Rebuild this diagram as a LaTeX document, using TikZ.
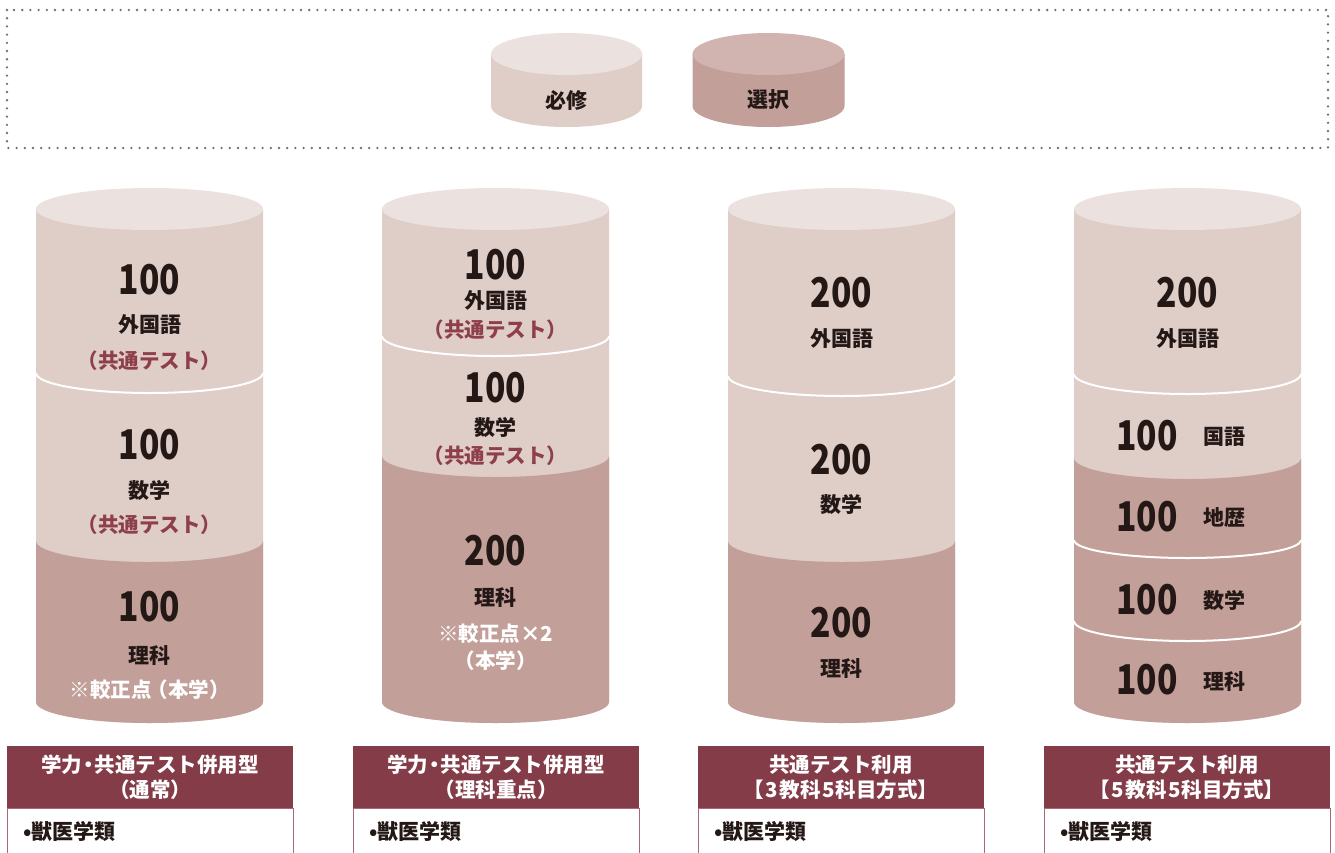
\documentclass[tikz,border=0pt]{standalone}
\usepackage{fontspec}
\setmainfont{Noto Sans CJK JP}
\definecolor{lightbody}{HTML}{DFCDC8}
\definecolor{lighttop}{HTML}{EBE1DF}
\definecolor{darkbody}{HTML}{C39F99}
\definecolor{darktop}{HTML}{D1B4AF}
\definecolor{hdr}{HTML}{843D48}
\definecolor{redtxt}{HTML}{8E3F4A}
\definecolor{txt}{HTML}{231815}
\definecolor{bordc}{HTML}{A86A72}
\definecolor{dotc}{HTML}{707070}
\newcommand\cylshape[6]{%
  \fill[#6] ({#1-#2},#3) -- ({#1-#2},#4) arc[start angle=180,end angle=360,x radius=#2pt,y radius=#5pt] -- ({#1+#2},#3) -- cycle;}
\newcommand\cylseg[6]{%
  \fill[#6] ({#1-#2},#3) arc[start angle=180,end angle=360,x radius=#2pt,y radius=#5pt] -- ({#1+#2},#4) arc[start angle=0,end angle=-180,x radius=#2pt,y radius=#5pt] -- cycle;}
\newcommand\cylline[4]{%
  \draw[white,line width=2pt] ({#1-#2},#3) arc[start angle=180,end angle=360,x radius=#2pt,y radius=#4pt];}
\newcommand\cyltop[5]{%
  \fill[#5] (#1,#3) ellipse[x radius=#2pt,y radius=#4pt];}
\newcommand\numtxt[1]{\scalebox{0.82}[1]{#1}}
\newcommand\dg[1]{\kern1.5pt#1\kern1.5pt}
\begin{document}
\begin{tikzpicture}[x=1pt,y=-1pt,
  num/.style={font=\bfseries\fontsize{41}{41}\selectfont,text=txt,inner sep=0pt},
  lab/.style={font=\bfseries\fontsize{21}{21}\selectfont,text=txt,inner sep=0pt},
  red/.style={font=\bfseries\fontsize{20.5}{20.5}\selectfont,text=redtxt,inner sep=0pt},
  wht/.style={font=\bfseries\fontsize{20.5}{20.5}\selectfont,text=white,inner sep=0pt},
  hdrtxt/.style={font=\bfseries\fontsize{20.5}{25}\selectfont,text=white,inner sep=0pt,align=center},
  bodytxt/.style={font=\bfseries\fontsize{21}{21}\selectfont,text=txt,inner sep=0pt,anchor=west},
  hdrbox/.style={fill=hdr,draw=none},
  bodybox/.style={draw=bordc,line width=1pt,fill=white}]
\useasboundingbox (0,0) rectangle (1335,852);
\clip (0,0) rectangle (1335,852);
% legend frame
\draw[dotc,line width=2.6pt,line cap=round,dash pattern=on 0pt off 8.2pt] (7,10) rectangle (1328,148);
% legend cylinders
\cylshape{566.5}{75.5}{54}{106}{21}{lightbody}
\cyltop{566.5}{75.5}{54}{21}{lighttop}
\node[lab] (lg1) at (566.5,100) {必修};
\cylshape{768.5}{76}{54}{106}{21}{darkbody}
\cyltop{768.5}{76}{54}{21}{darktop}
\node[lab] (lg2) at (768.5,100) {選択};
% cylinder 1
\cylshape{149.5}{113.5}{209}{702}{21}{lightbody}
\cylseg{149.5}{113.5}{541}{702}{21}{darkbody}
\cylline{149.5}{113.5}{373}{20}
\cyltop{149.5}{113.5}{209}{21}{lighttop}
\node[num] (c1n1) at (149.5,280) {\numtxt{100}};
\node[lab] (c1l1) at (149.5,325) {外国語};
\node[red] (c1r1) at (149.5,361) {（共通テスト）};
\node[num] (c1n2) at (149.5,445) {\numtxt{100}};
\node[lab] (c1l2) at (149.5,490) {数学};
\node[red] (c1r2) at (149.5,525) {（共通テスト）};
\node[num] (c1n3) at (149.5,607) {\numtxt{100}};
\node[lab] (c1l3) at (149.5,655) {理科};
\node[wht] (c1w3) at (149.5,690) {※較正点\kern-4pt（本学）};
% cylinder 2
\cylshape{495.5}{113.5}{209}{702}{21}{lightbody}
\cylseg{495.5}{113.5}{456}{702}{21}{darkbody}
\cylline{495.5}{113.5}{336}{20}
\cyltop{495.5}{113.5}{209}{21}{lighttop}
\node[num] (c2n1) at (495.5,265) {\numtxt{100}};
\node[lab] (c2l1) at (495.5,301) {外国語};
\node[red] (c2r1) at (495.5,330) {（共通テスト）};
\node[num] (c2n2) at (495.5,388) {\numtxt{100}};
\node[lab] (c2l2) at (495.5,427) {数学};
\node[red] (c2r2) at (495.5,456) {（共通テスト）};
\node[num] (c2n3) at (495.5,551) {\numtxt{200}};
\node[lab] (c2l3) at (495.5,597) {理科};
\node[wht] (c2w3) at (495.5,634) {※較正点×2};
\node[wht] (c2w4) at (495.5,661) {（本学）};
% cylinder 3
\cylshape{841.5}{113.5}{209}{702}{21}{lightbody}
\cylseg{841.5}{113.5}{541}{702}{21}{darkbody}
\cylline{841.5}{113.5}{376}{20}
\cyltop{841.5}{113.5}{209}{21}{lighttop}
\node[num] (c3n1) at (841.5,293) {\numtxt{200}};
\node[lab] (c3l1) at (841.5,339) {外国語};
\node[num] (c3n2) at (841.5,460) {\numtxt{200}};
\node[lab] (c3l2) at (841.5,504) {数学};
\node[num] (c3n3) at (841.5,623) {\numtxt{200}};
\node[lab] (c3l3) at (841.5,668) {理科};
% cylinder 4
\cylshape{1187.5}{113.5}{209}{702}{21}{lightbody}
\cylseg{1187.5}{113.5}{458}{702}{21}{darkbody}
\cylline{1187.5}{113.5}{374}{20}
\cylline{1187.5}{113.5}{540}{18}
\cylline{1187.5}{113.5}{621}{20}
\cyltop{1187.5}{113.5}{209}{21}{lighttop}
\node[num] (c4n1) at (1187.5,293) {\numtxt{200}};
\node[lab] (c4l1) at (1187.5,339) {外国語};
\node[num] (c4n2) at (1147,436) {\numtxt{100}};
\node[lab] (c4l2) at (1224,437) {国語};
\node[num] (c4n3) at (1147,517) {\numtxt{100}};
\node[lab] (c4l3) at (1224,517) {地歴};
\node[num] (c4n4) at (1147,600) {\numtxt{100}};
\node[lab] (c4l4) at (1224,600) {数学};
\node[num] (c4n5) at (1147,680) {\numtxt{100}};
\node[lab] (c4l5) at (1224,681) {理科};
% bottom boxes
\foreach \bx/\i in {7/1,353/2,698/3,1044/4}{
  \draw[bodybox] (\bx,808) rectangle ({\bx+286},880);
  \fill[hdrbox] (\bx,746) rectangle ({\bx+286},808);
  \node[bodytxt] (b\i) at ({\bx+16},832) {•獣医学類};
}
\node[hdrtxt] (h1) at (150,777.5) {学力\kern-4pt・\kern-4pt共通テスト併用型\\（通常）};
\node[hdrtxt] (h2) at (496,777.5) {学力\kern-4pt・\kern-4pt共通テスト併用型\\（理科重点）};
\node[hdrtxt] (h3) at (841,777.5) {共通テスト利用\\【\dg{3}教科\dg{5}科目方式】};
\node[hdrtxt] (h4) at (1187,777.5) {共通テスト利用\\【\dg{5}教科\dg{5}科目方式】};
\end{tikzpicture}
\end{document}
